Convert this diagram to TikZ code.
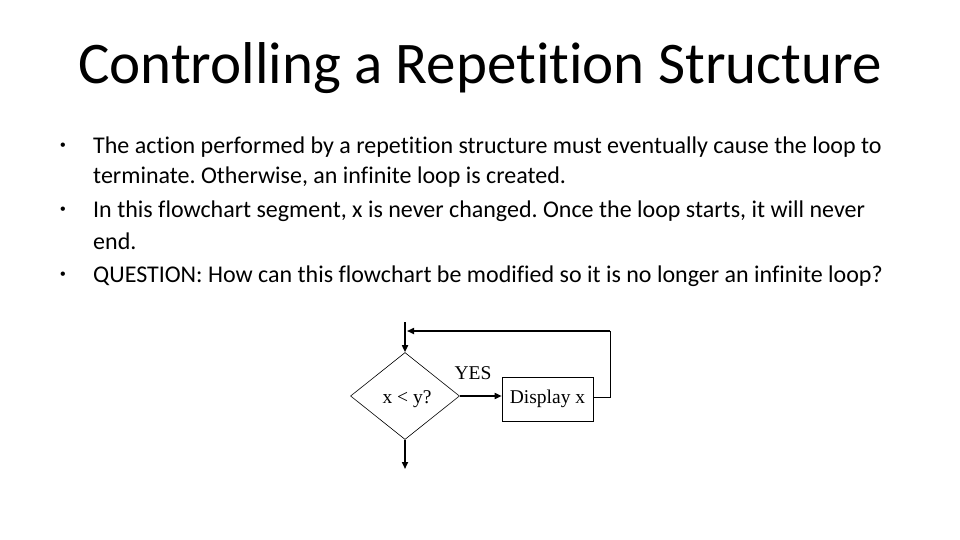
\documentclass[tikz,border=0pt]{standalone}
\usepackage{fontspec}
\setmainfont{Carlito}[Ligatures=NoCommon]
\newfontfamily\tms{Liberation Serif}
\newfontfamily\arl{Liberation Sans}
\usetikzlibrary{shapes.geometric,arrows.meta}
\frenchspacing
\begin{document}
\begin{tikzpicture}[x=1pt,y=-1pt,
  flow/.style={line width=1.6pt,-{Triangle[length=7pt,width=6pt]}},
  thin/.style={line width=0.6pt},
  btext/.style={anchor=west,inner sep=0pt,font=\fontsize{24}{28}\selectfont},
  bul/.style={anchor=center,inner sep=0pt,font=\arl\fontsize{16}{20}\selectfont},
  dtext/.style={font=\tms\fontsize{19.5}{22}\selectfont}]
\useasboundingbox (0,0) rectangle (960,540);
\node (title) at (480,68) {\fontsize{59}{64}\selectfont Controlling a Repetition Structure};
\node[bul] (b1) at (63,147) {•};
\node[bul] (b2) at (63,211) {•};
\node[bul] (b3) at (63,276) {•};
\node[btext] (t1) at (93,147) {The action performed by a repetition structure must eventually cause the loop to};
\node[btext] (t1b) at (93,177) {terminate. Otherwise, an infinite loop is created.};
\node[btext] (t2) at (93,211) {In this flowchart segment, x is never changed. Once the loop starts, it will never};
\node[btext] (t2b) at (93,241) {end.};
\node[btext] (t3) at (93,276) {QUESTION: How can this flowchart be modified so it is no longer an infinite loop?};
\node[diamond,draw,thin,minimum width=109pt,minimum height=87pt,inner sep=0pt,aspect=1.25] (d) at (405,396) {};
\node[dtext,inner sep=0pt] (dt) at (407,399) {x < y?};
\node[draw,thin,minimum width=91pt,minimum height=44pt,inner sep=0pt,dtext] (box) at (547.5,399) {Display x};
\node[dtext,inner sep=0pt] (yes) at (473,373) {YES};
\coordinate (top) at (405,322);
\coordinate (bot) at (405,469);
\coordinate (r1) at (610,397);
\coordinate (r2) at (610,331);
\coordinate (r3) at (407,331);
\draw[flow] (top) -- (d.north);
\draw[flow] (d.south) -- (bot);
\draw[flow] (d.east) -- (box.west |- d.east);
\draw[thin] (box.east |- r1) -- (r1) -- (r2);
\draw[flow] (r2) -- (r3);
\end{tikzpicture}
\end{document}
